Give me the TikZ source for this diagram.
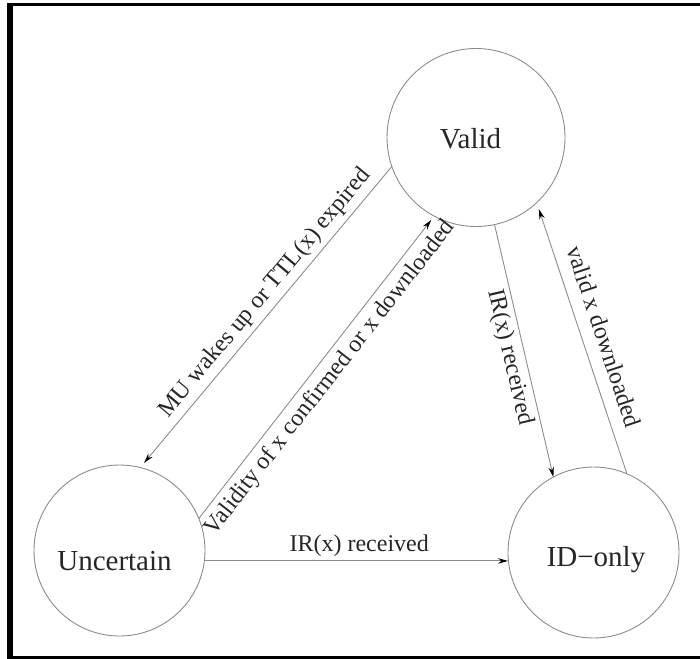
\documentclass[tikz,border=0pt]{standalone}
\usepackage{fontspec}
\setmainfont{Liberation Serif}
\usetikzlibrary{arrows.meta}
\begin{document}
\begin{tikzpicture}[x=1pt,y=-1pt,
  state/.style={circle,draw=black!45,line width=0.9pt,inner sep=0pt,outer sep=0pt},
  statetext/.style={font=\fontsize{29}{29}\selectfont,text=black!85,anchor=base,inner sep=0pt},
  trans/.style={draw=black!45,line width=0.9pt,-{Stealth[length=10pt,width=5.5pt,black]}},
  lbl/.style={font=\fontsize{24}{24}\selectfont,text=black!85,sloped}
]
\useasboundingbox (0,0) rectangle (700,658);
% frame
\fill[black] (7,3.3) rectangle (12.7,660);
\fill[black] (7,3.3) rectangle (700,6.3);
\fill[black] (7,655.8) rectangle (700,660);
% states
\node[state,minimum size=178pt] (v) at (476,137.5) {};
\node[state,minimum size=171pt] (u) at (119.5,550.5) {};
\node[state,minimum size=171pt] (i) at (593.5,552.5) {};
\node[statetext] (vt) at (470.5,148) {Valid};
\node[statetext] (ut) at (114.5,570) {Uncertain};
\node[statetext] (it) at (596,566) {ID−only};
% transitions
\draw[trans,shorten >=6pt] (v.199.7) -- node[lbl,pos=0.455,above,inner sep=4.5pt] (l1) {MU wakes up or TTL(x) expired} (u.76.5);
\draw[trans,shorten >=5pt] (u.22) -- node[lbl,pos=0.5,below,inner sep=6pt] (l2) {Validity of x confirmed or x downloaded} (v.242.9);
\draw[trans] (v.282.3) -- node[lbl,pos=0.513,below,inner sep=4pt] (l3) {IR(x) received} (i.118.8);
\draw[trans,shorten >=7pt] (i.67.3) -- node[lbl,pos=0.48,above,inner sep=13pt] (l4) {valid x downloaded} (v.313.3);
\draw[trans] (u.-7.5) -- node[lbl,pos=0.51,above,inner sep=4pt] (l5) {IR(x) received} (u.-7.5 -| i.west);
\end{tikzpicture}
\end{document}
